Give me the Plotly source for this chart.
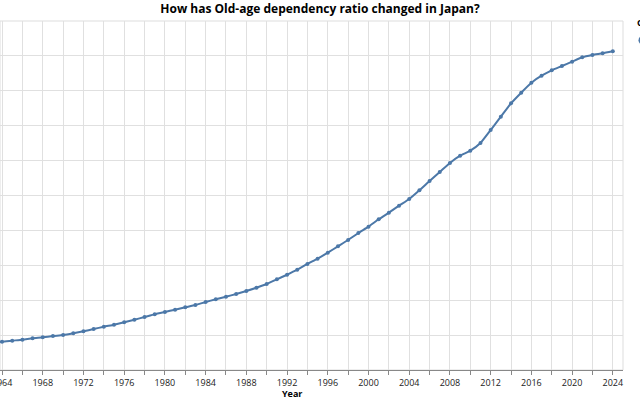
import plotly.graph_objects as go

years = list(range(1960, 2025))
ratio = [
    8.90, 8.92, 8.95, 9.00,
    9.05, 9.20, 9.34, 9.54, 9.68, 9.87, 10.01, 10.26, 10.54, 10.87,
    11.20, 11.49, 11.83, 12.21, 12.59, 12.98, 13.31, 13.64, 13.98, 14.31,
    14.74, 15.14, 15.50, 15.89, 16.32, 16.79, 17.32, 17.99, 18.65, 19.37,
    20.19, 20.95, 21.81, 22.72, 23.62, 24.63, 25.53, 26.59, 27.54, 28.54,
    29.50, 30.75, 32.08, 33.37, 34.66, 35.70, 36.42, 37.52, 39.38, 41.29,
    43.21, 44.73, 46.16, 47.16, 47.94, 48.55, 49.17, 49.80, 50.13, 50.37,
    50.66,
]
tick_years = list(range(1964, 2025, 2))
tick_labels = [str(y) if (y - 1964) % 4 == 0 else "" for y in tick_years]

country = "Japan"
title_text = "How has Old-age dependency ratio changed in Japan?"
color = "#4c78a8"
font = "Open Sans"

fig = go.Figure()
fig.add_trace(go.Scatter(
    x=years, y=ratio, mode="lines+markers", name=country, showlegend=False,
    line=dict(color=color, width=2, shape="spline", smoothing=0.5),
    marker=dict(color=color, size=4),
    cliponaxis=True,
))
fig.add_trace(go.Scatter(
    x=[None], y=[None], mode="markers", name=country, showlegend=True,
    marker=dict(color=color, size=9),
))

fig.update_layout(
    width=640, height=400,
    margin=dict(l=0, r=17, t=21, b=30, autoexpand=False),
    paper_bgcolor="white", plot_bgcolor="white",
    font=dict(family=font, size=9, color="#222"),
    title=dict(text="<b>" + title_text + "</b>", x=0.5, xref="container",
               xanchor="center", y=1 - 9 / 400, yref="container", yanchor="middle",
               font=dict(family=font, size=12, color="#000")),
    xaxis=dict(range=[1963.8, 2025.0], tickvals=tick_years, ticktext=tick_labels,
               showgrid=True, gridcolor="#e0e0e0", gridwidth=1,
               showline=True, linecolor="#888", linewidth=1,
               ticks="outside", ticklen=4, tickcolor="#888",
               ticklabeloverflow="allow",
               tickfont=dict(size=9, color="#222"), zeroline=False),
    yaxis=dict(range=[5, 55], dtick=5, showgrid=True, gridcolor="#e0e0e0",
               gridwidth=1, showticklabels=False, zeroline=False, showline=False),
    legend=dict(x=635 / 623, xanchor="left", y=1 + 7 / 349, yanchor="top",
                title=dict(text="<b>Country</b>", font=dict(size=9, color="#000")),
                font=dict(size=9), indentation=-12, tracegroupgap=0,
                bgcolor="rgba(0,0,0,0)"),
    shapes=[dict(type="rect", xref="paper", yref="paper", x0=0, x1=1, y0=0, y1=1,
                 line=dict(color="#dddddd", width=1), layer="below")],
    annotations=[dict(text="<b>Year</b>", xref="paper", yref="paper",
                      x=292 / 623, y=-(393 - 370) / 349, xanchor="center",
                      yanchor="middle", showarrow=False,
                      font=dict(family=font, size=9, color="#000"))],
)

fig.write_html("out.html")
